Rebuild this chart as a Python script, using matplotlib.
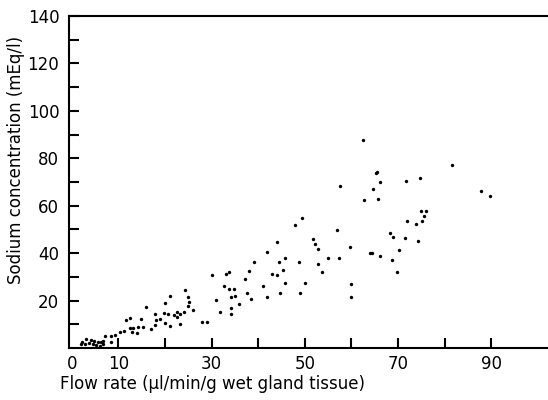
import matplotlib
matplotlib.use('Agg')
import matplotlib.pyplot as plt

# flow rate (ul/min/g) vs sodium concentration (mEq/l)
flow = [1.9, 2.1, 2.8, 3.0, 3.7, 4.1, 4.5, 4.8, 5.3, 5.7, 6.0, 6.3, 6.8, 6.8, 7.2,
        8.4, 8.5, 9.2, 10.4, 11.2, 11.7, 12.5, 12.4, 12.9, 13.2, 14.1, 14.2, 14.9,
        15.2, 15.9,
        17.1, 17.9, 17.9, 18.1, 19.0, 19.8, 20.0, 20.0, 20.7, 21.0, 21.0, 21.9,
        22.6, 22.6, 23.2, 23.3, 24.0, 24.2, 24.9, 25.0, 25.2, 26.0, 28.0, 29.1,
        30.0, 31.0, 31.8, 32.7,
        33.0, 33.8, 33.8, 34.8, 34.1, 35.1, 35.9, 34.1, 34.1, 37.1, 37.5, 38.1,
        38.5, 39.0, 41.0, 41.9, 41.9, 42.9, 44.1, 44.1, 44.5, 44.6, 45.3, 45.8,
        45.8, 47.8, 48.8, 49.0, 49.3, 50.0, 51.7, 52.3, 52.8, 52.9, 53.7, 54.9,
        56.9, 57.4, 57.6, 59.8, 59.9, 59.9, 62.5, 62.7, 64.0, 64.4, 64.7, 65.4,
        65.2, 65.7, 66.1, 66.2, 68.2, 68.8, 69.0, 69.9, 70.2, 71.5, 71.8, 71.9,
        73.9, 74.4, 74.7, 75.0, 75.2, 75.6, 76.0, 81.7, 87.9, 89.8]
sodium = [1.6, 2.7, 1.8, 3.7, 2.2, 3.4, 1.7, 3.1, 1.3, 2.5, 1.0, 2.5, 2.8, 1.6, 5.2,
          5.2, 2.7, 5.6, 6.8, 7.3, 11.6, 12.6, 8.5, 6.8, 8.5, 6.5, 8.8, 12.3,
          9.0, 17.5,
          8.1, 9.5, 14.3, 11.7, 12.3, 14.8, 18.8, 10.6, 14.5, 21.9, 9.2, 14.0,
          15.3, 12.9, 10.3, 14.3, 15.1, 24.6, 17.9, 21.3, 19.6, 16.0, 11.1, 11.1,
          30.8, 20.3, 15.1, 26.3,
          31.4, 31.9, 24.9, 24.9, 21.5, 21.9, 18.6, 16.9, 14.4, 28.9, 23.0, 32.6,
          20.6, 36.4, 26.3, 40.3, 21.3, 31.2, 30.9, 44.8, 36.4, 23.3, 32.8, 38.1,
          27.5, 51.8, 36.2, 23.2, 55.0, 27.4, 45.9, 43.8, 35.4, 41.8, 32.2, 37.9,
          49.6, 37.9, 68.2, 42.7, 27.1, 21.3, 87.7, 62.6, 40.1, 40.0, 67.1, 74.3,
          74.0, 62.7, 38.6, 70.2, 48.4, 37.0, 46.8, 31.9, 41.2, 46.2, 70.5, 53.5,
          52.5, 45.3, 71.8, 57.8, 53.5, 55.5, 57.6, 77.3, 66.0, 64.3]

x_ticks = [0, 10, 20, 30, 40, 50, 60, 70, 80, 90]
x_labels = ['0', '10', '', '30', '', '50', '', '70', '', '90']
y_ticks = [10, 20, 30, 40, 50, 60, 70, 80, 90, 100, 110, 120, 130, 140]
y_labels = ['', '20', '', '40', '', '60', '', '80', '', '100', '', '120', '', '140']

plt.rcParams['font.family'] = ['DejaVu Sans']

fig = plt.figure(figsize=(5.48, 4.0), dpi=100)
ax = fig.add_axes([69/548, 52/400, 1 - 69/548, 332/400])

ax.scatter(flow, sodium, s=6, c='k', linewidths=0)

ax.set_xlim(-0.6, 102.2)
ax.set_ylim(0, 140)
ax.spines['right'].set_visible(False)
for s in ('left', 'bottom', 'top'):
    ax.spines[s].set_linewidth(1.5)

ax.set_xticks(x_ticks)
ax.set_xticklabels(x_labels)
ax.set_yticks(y_ticks)
ax.set_yticklabels(y_labels)
ax.tick_params(direction='in', length=7, width=1.5, labelsize=12)
ax.tick_params(axis='x', pad=5)
ax.tick_params(axis='y', pad=7)
ax.xaxis.get_major_ticks()[0].tick1line.set_visible(False)  # 0 only has a label

fig.text(60/548, 1 - 384/400, 'Flow rate (\u00b5l/min/g wet gland tissue)', fontsize=12,
         ha='left', va='center')
fig.text(16/548, 1 - 160/400, 'Sodium concentration (mEq/l)', fontsize=12,
         rotation=90, ha='center', va='center')

fig.savefig('out.png', dpi=100)
